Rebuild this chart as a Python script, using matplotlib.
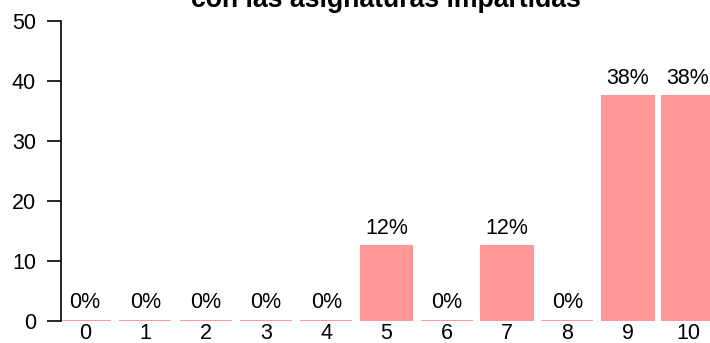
import matplotlib.pyplot as plt

# puntuaciones 0-10 y porcentaje de respuestas
notas = [0, 1, 2, 3, 4, 5, 6, 7, 8, 9, 10]
porcentaje = [0, 0, 0, 0, 0, 12.5, 0, 12.5, 0, 37.5, 37.5]
titulo = "con las asignaturas impartidas"

plt.rcParams['font.family'] = ['Liberation Sans', 'DejaVu Sans']

fig = plt.figure(figsize=(7.1, 3.43), dpi=100)
ax = fig.add_axes([61/710, 22/343, 649/710, 300/343])

ax.bar(notas, porcentaje, width=0.86, color="#ff9999", edgecolor="#ff9999", linewidth=1.5)
for x, v in zip(notas, porcentaje):
    ax.annotate(f"{round(v)}%", (x, v), xytext=(0, 9), textcoords="offset points",
                ha="center", va="baseline", fontsize=15.5, annotation_clip=False)

ax.set_xlim(-24/60.3, 625/60.3)
ax.set_ylim(0, 50)
ax.set_yticks([0, 10, 20, 30, 40, 50])
ax.set_xticks(notas)
ax.set_xticklabels([str(n) for n in notas])
ax.tick_params(axis="y", length=10, width=1.2, pad=8, labelsize=15.5)
ax.tick_params(axis="x", length=0, pad=1.5, labelsize=15.5)
for s in ["top", "right", "bottom"]:
    ax.spines[s].set_visible(False)
ax.spines["left"].set_linewidth(1.2)

fig.text(386/710, 1 - 7/343, titulo, ha="center", va="baseline",
         fontsize=19.2, fontweight="bold")

fig.savefig("out.png", dpi=100)
